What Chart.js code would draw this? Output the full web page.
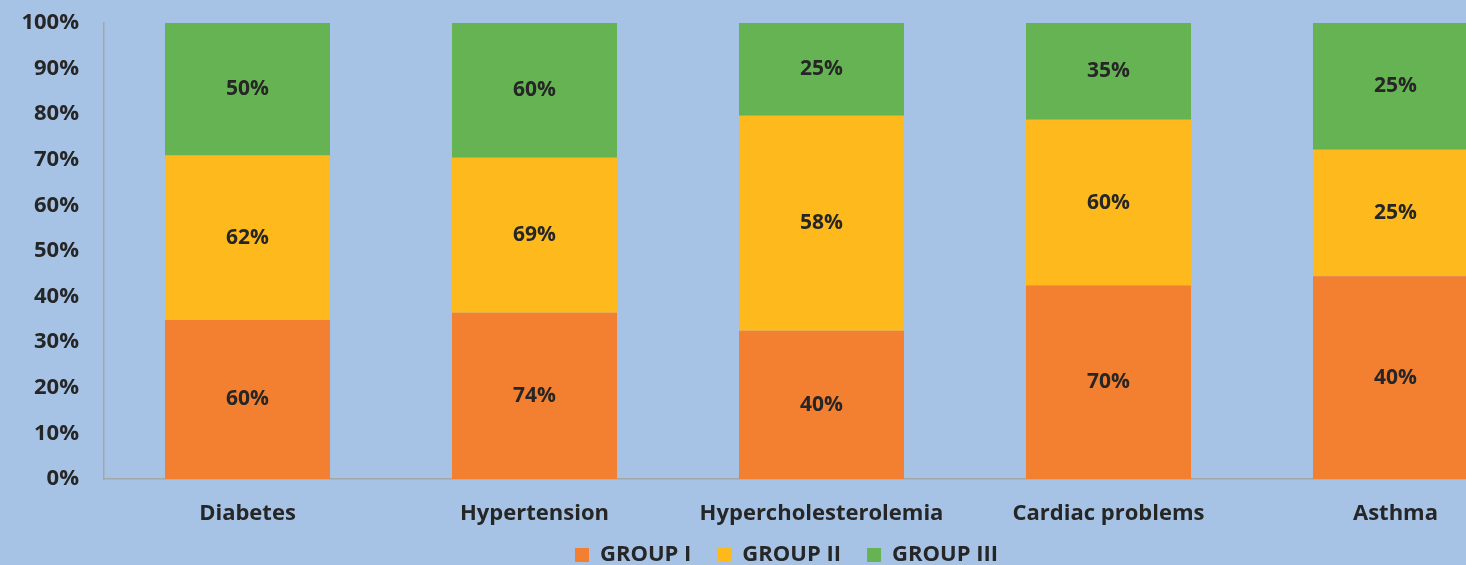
<!DOCTYPE html>
<html>
<head>
<meta charset="utf-8">
<script src="https://cdn.jsdelivr.net/npm/chart.js@4/dist/chart.umd.min.js"></script>
<style>
  html, body { margin: 0; padding: 0; background: #a6c3e6; overflow: hidden; }
  .wrap { position: relative; width: 1540px; height: 565px; }
</style>
</head>
<body>
<div class="wrap"><canvas id="chart"></canvas></div>
<script>
const categories = ["Diabetes", "Hypertension", "Hypercholesterolemia", "Cardiac problems", "Asthma"];
const groupI = [60, 74, 40, 70, 40];
const groupII = [62, 69, 58, 60, 25];
const groupIII = [50, 60, 25, 35, 25];
const yTicks = [0, 10, 20, 30, 40, 50, 60, 70, 80, 90, 100];

const FONT = "'Open Sans', sans-serif";
const TEXT = "#262626";

const totals = categories.map((_, i) => groupI[i] + groupII[i] + groupIII[i]);
const share = (arr) => arr.map((v, i) => (v / totals[i]) * 100);

const series = [
  { label: "GROUP I", raw: groupI, color: "#f37f30" },
  { label: "GROUP II", raw: groupII, color: "#feba1d" },
  { label: "GROUP III", raw: groupIII, color: "#66b354" },
];

const barLabels = {
  id: "barLabels",
  afterDatasetsDraw(chart) {
    const ctx = chart.ctx;
    ctx.save();
    ctx.font = `bold 21px ${FONT}`;
    ctx.fillStyle = TEXT;
    ctx.textAlign = "center";
    ctx.textBaseline = "middle";
    chart.data.datasets.forEach((ds, di) => {
      chart.getDatasetMeta(di).data.forEach((bar, i) => {
        const p = bar.getProps(["x", "y", "base"], true);
        ctx.fillText(`${ds.raw[i]}%`, p.x, (p.y + p.base) / 2);
      });
    });
    ctx.restore();
  },
};

// legend sits centred on the visible window, a little under the axis labels
const placeLegend = {
  id: "placeLegend",
  afterLayout(chart) {
    const lg = chart.legend;
    if (!lg) return;
    lg.left += 17;
    lg.right += 17;
    lg.top = 518;
    lg.bottom = 565;
  },
};

new Chart(document.getElementById("chart"), {
  type: "bar",
  data: {
    labels: categories,
    datasets: series.map((s) => ({
      label: s.label,
      raw: s.raw,
      data: share(s.raw),
      backgroundColor: s.color,
      borderWidth: 0,
      categoryPercentage: 1,
      barPercentage: 0.575,
    })),
  },
  options: {
    responsive: true,
    maintainAspectRatio: false,
    animation: false,
    layout: { padding: { top: 23, right: 1, bottom: 0, left: 0 } },
    plugins: {
      tooltip: { enabled: false },
      legend: {
        position: "bottom",
        maxHeight: 36,
        labels: {
          boxWidth: 14,
          boxHeight: 14,
          padding: 26,
          color: TEXT,
          font: { family: FONT, size: 22, weight: "bold" },
        },
      },
    },
    scales: {
      x: {
        stacked: true,
        afterFit(scale) { scale.height = 50; },
        grid: { display: false, drawTicks: false },
        border: { color: "#a6a6a6", width: 1.5 },
        ticks: { color: TEXT, padding: 22, font: { family: FONT, size: 22, weight: "bold" } },
      },
      y: {
        stacked: true,
        min: 0,
        max: 100,
        afterBuildTicks(scale) {
          scale.ticks = yTicks.map((v) => ({ value: v }));
        },
        afterFit(scale) {
          scale.width = 104;
          scale.paddingTop = 0;
          scale.paddingBottom = 0;
        },
        grid: { display: false, drawTicks: false },
        border: { color: "#a6a6a6", width: 1.5 },
        ticks: {
          color: TEXT,
          padding: 25,
          font: { family: FONT, size: 22, weight: "bold" },
          callback: (v) => `${v}%`,
        },
      },
    },
  },
  plugins: [barLabels, placeLegend],
});
</script>
</body>
</html>
